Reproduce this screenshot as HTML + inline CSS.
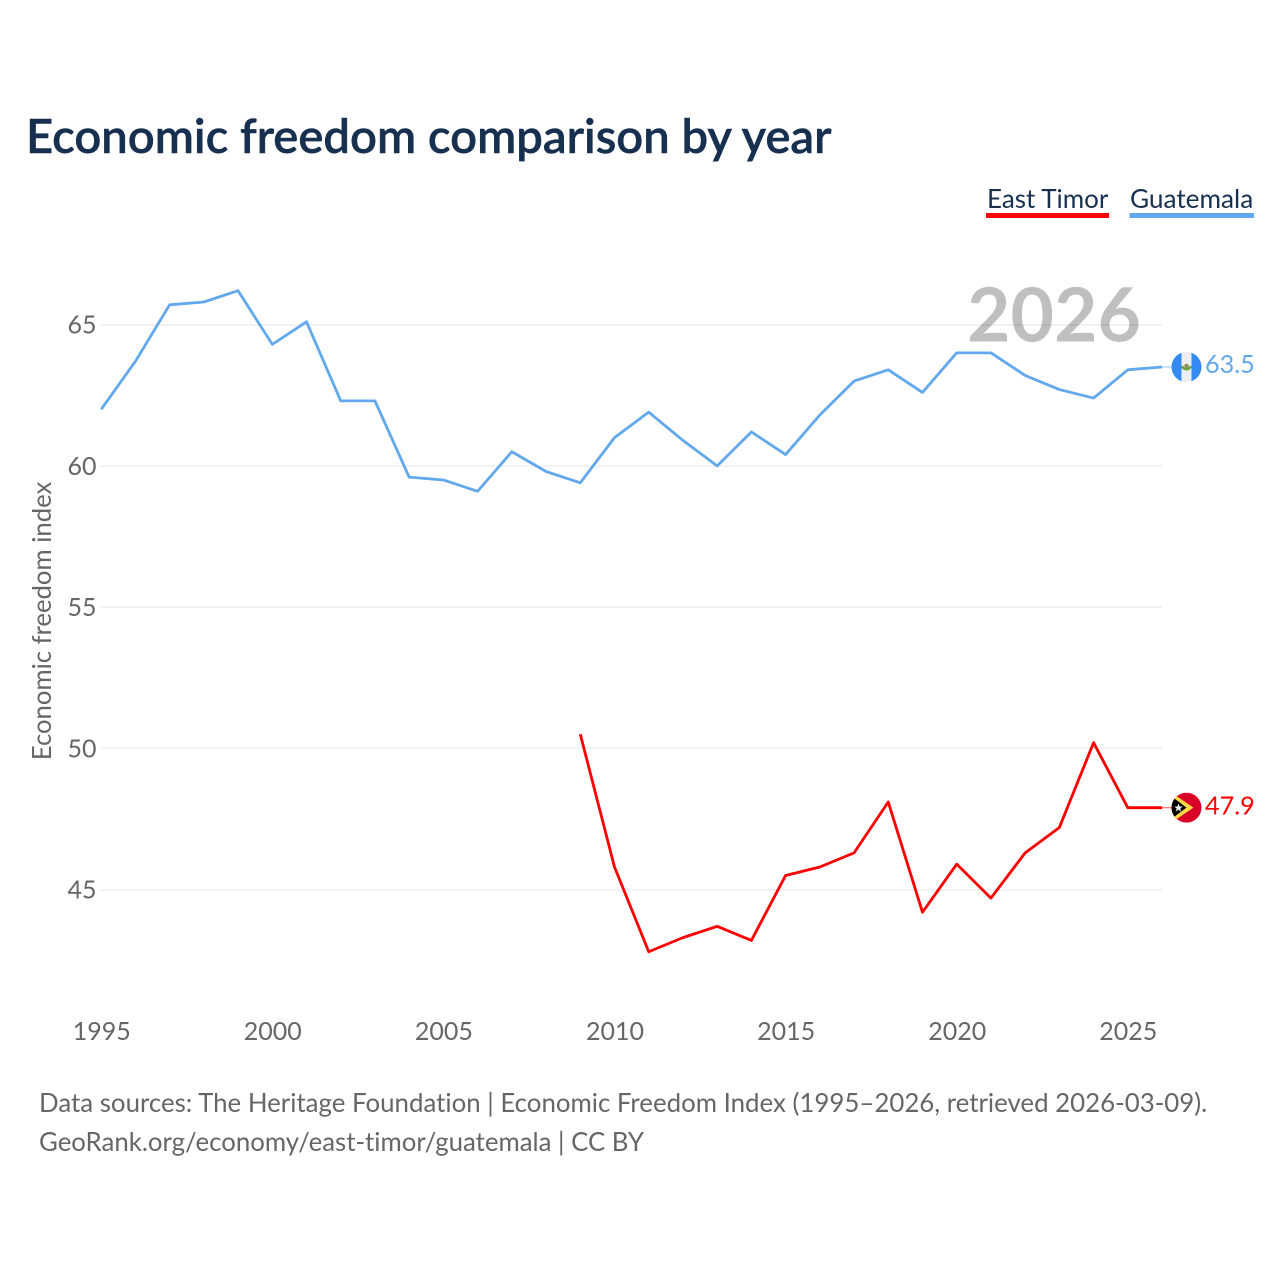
<!DOCTYPE html>
<html lang="en">
<head>
<meta charset="utf-8">
<title>Economic freedom comparison by year</title>
<style>
html,body{margin:0;padding:0;background:#fff;width:1280px;height:1280px;overflow:hidden}
svg{display:block}
text{font-family:"Lato","Carlito","Liberation Sans",sans-serif;font-variant-ligatures:none}
</style>
</head>
<body>
<svg id="chart" xmlns="http://www.w3.org/2000/svg" width="1280" height="1280" viewBox="0 0 1280 1280">
<rect width="1280" height="1280" fill="#fff"/>
<text x="26" y="153" font-size="47.2" font-weight="600" fill="#18304f" stroke="#18304f" stroke-width="0.5">Economic freedom comparison by year</text>

<g>
<text x="987" y="208" font-size="26" fill="#18304f">East Timor</text>
<rect x="986" y="213" width="123" height="5" fill="#ff0000"/>
</g>
<g>
<text x="1130" y="208" font-size="26.2" fill="#18304f">Guatemala</text>
<rect x="1129.5" y="213" width="124.5" height="5" fill="#62a8ec"/>
</g>

<g id="grid"></g>
<g id="yticks"></g>
<g id="xticks"></g>

<text x="0" y="0" transform="translate(51,621) rotate(-90)" text-anchor="middle" font-size="25.7" fill="#666">Economic freedom index</text>

<text x="1141" y="341.5" text-anchor="end" font-size="75" font-weight="700" fill="#000" fill-opacity="0.25">2026</text>

<g id="series"></g>

<g id="end-guatemala">
<line id="conn-g" x1="1161" x2="1172" stroke="#62a8ec" stroke-width="1.4" stroke-opacity="0.5"/>
<g id="flag-g">
<clipPath id="clip-g"><circle cx="0" cy="0" r="15"/></clipPath>
<g clip-path="url(#clip-g)">
<rect x="-15" y="-15" width="30" height="30" fill="#eeeeee"/>
<rect x="-15" y="-15" width="10" height="30" fill="#338af3"/>
<rect x="5" y="-15" width="10" height="30" fill="#338af3"/>
<path d="M-4.4,-3 A4.6,4.6 0 0 0 4.4,-3" transform="translate(0,2)" fill="none" stroke="#6da544" stroke-width="2.6"/>
<circle cx="0" cy="-1" r="2.2" fill="#8a8a5a"/>
</g>
</g>
<text id="label-g" x="1205" font-size="25.2" fill="#62a8ec">63.5</text>
</g>

<g id="end-timor">
<line id="conn-t" x1="1161" x2="1172" stroke="#ff0000" stroke-width="1.4" stroke-opacity="0.5"/>
<g id="flag-t">
<clipPath id="clip-t"><circle cx="0" cy="0" r="15"/></clipPath>
<g clip-path="url(#clip-t)">
<rect x="-15" y="-15" width="30" height="30" fill="#d80027"/>
<path d="M-15,-15 L7,0 L-15,15 Z" fill="#ffda44"/>
<path d="M-15,-11.25 L0,0 L-15,11.25 Z" fill="#000"/>
<path d="M-8,-4 L-6.8,-1.2 L-3.8,-1.2 L-6.2,0.8 L-5.2,4 L-8,2 L-10.8,4 L-9.8,0.8 L-12.2,-1.2 L-9.2,-1.2 Z" fill="#f0f0f0"/>
</g>
</g>
<text id="label-t" x="1205" font-size="25.2" fill="#ff0000">47.9</text>
</g>

<text x="39" y="1112" font-size="25.85" fill="#666">Data sources: The Heritage Foundation | Economic Freedom Index (1995–2026, retrieved 2026-03-09).</text>
<text x="39" y="1151" font-size="25.8" fill="#666">GeoRank.org/economy/east-timor/guatemala | CC BY</text>

<script>
var years = [1995,1996,1997,1998,1999,2000,2001,2002,2003,2004,2005,2006,2007,2008,2009,2010,2011,2012,2013,2014,2015,2016,2017,2018,2019,2020,2021,2022,2023,2024,2025,2026];
var guatemala = [62.0,63.7,65.7,65.8,66.2,64.3,65.1,62.3,62.3,59.6,59.5,59.1,60.5,59.8,59.4,61.0,61.9,60.9,60.0,61.2,60.4,61.8,63.0,63.4,62.6,64.0,64.0,63.2,62.7,62.4,63.4,63.5];
var eastTimor = [null,null,null,null,null,null,null,null,null,null,null,null,null,null,50.5,45.8,42.8,43.3,43.7,43.2,45.5,45.8,46.3,48.1,44.2,45.9,44.7,46.3,47.2,50.2,47.9,47.9];
var yTickValues = [45,50,55,60,65];
var xTickValues = [1995,2000,2005,2010,2015,2020,2025];

var NS = 'http://www.w3.org/2000/svg';
function xScale(year){ return 101.2 + (year - 1995) * 34.22; }
function yScale(v){ return 324.6 + (65 - v) * 28.25; }
function make(tag, attrs, parent){
  var el = document.createElementNS(NS, tag);
  for (var k in attrs) el.setAttribute(k, attrs[k]);
  parent.appendChild(el);
  return el;
}
var gridG = document.getElementById('grid');
var yG = document.getElementById('yticks');
var xG = document.getElementById('xticks');
var seriesG = document.getElementById('series');

yTickValues.forEach(function(v){
  var gy = Math.round(yScale(v));
  var ln = make('line', {x1:101, x2:1162, y1:gy, y2:gy, stroke:'#e9e9e9', 'stroke-width':1.2}, gridG);
  
  
  var t = make('text', {x:96.5, y:yScale(v) + 9, 'text-anchor':'end', 'font-size':25, fill:'#666'}, yG);
  t.textContent = v;
  
  
});
xTickValues.forEach(function(y){
  var t = make('text', {x:xScale(y) + 0.5, y:1040, 'text-anchor':'middle', 'font-size':25, fill:'#666'}, xG);
  t.textContent = y;
  
  
});
function linePath(values){
  var d = '', started = false;
  values.forEach(function(v, i){
    if (v === null) return;
    d += (started ? 'L' : 'M') + xScale(years[i]).toFixed(2) + ',' + yScale(v).toFixed(2);
    started = true;
  });
  return d;
}
var pathG = make('path', {d:linePath(guatemala), fill:'none', stroke:'#62a8ec', 'stroke-width':2.8, 'stroke-linejoin':'round'}, seriesG);


var pathT = make('path', {d:linePath(eastTimor), fill:'none', stroke:'#ff0000', 'stroke-width':2.8, 'stroke-linejoin':'round'}, seriesG);



function placeEnd(values, suffix, labelId){
  var v = values[values.length - 1];
  var y = yScale(v);
  var c = document.getElementById('conn-' + suffix);
  c.setAttribute('y1', y);
  c.setAttribute('y2', y);
  document.getElementById('flag-' + suffix).setAttribute('transform', 'translate(1186.5,' + y + ')');
  var l = document.getElementById(labelId);
  l.setAttribute('y', y + (suffix === 'g' ? 6 : 7));
  l.textContent = v.toFixed(1);
}
placeEnd(guatemala, 'g', 'label-g');
placeEnd(eastTimor, 't', 'label-t');
</script>
</svg>
</body>
</html>
